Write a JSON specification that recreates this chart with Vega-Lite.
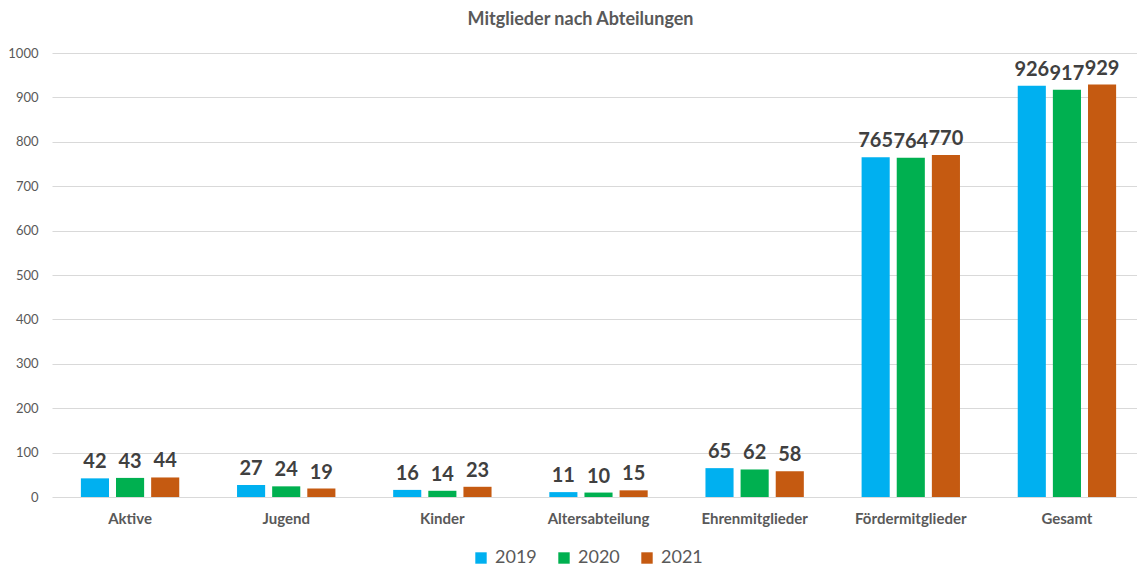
{
  "$schema": "https://vega.github.io/schema/vega-lite/v6.json",
  "autosize": {"type": "none"},
  "padding": {"left": 52, "top": 53, "right": 2, "bottom": 70},
  "width": 1083,
  "height": 444,
  "background": "white",
  "config": {
    "font": "Lato",
    "view": {"stroke": null}
  },
  "title": {
    "text": "Mitglieder nach Abteilungen",
    "fontSize": 18,
    "fontWeight": "bold",
    "color": "#595959",
    "font": "Lato",
    "offset": 18,
    "dx": -13
  },
  "data": {
    "values": [
      {"Abteilung": "Aktive", "Jahr": "2019", "Wert": 42},
      {"Abteilung": "Aktive", "Jahr": "2020", "Wert": 43},
      {"Abteilung": "Aktive", "Jahr": "2021", "Wert": 44},
      {"Abteilung": "Jugend", "Jahr": "2019", "Wert": 27},
      {"Abteilung": "Jugend", "Jahr": "2020", "Wert": 24},
      {"Abteilung": "Jugend", "Jahr": "2021", "Wert": 19},
      {"Abteilung": "Kinder", "Jahr": "2019", "Wert": 16},
      {"Abteilung": "Kinder", "Jahr": "2020", "Wert": 14},
      {"Abteilung": "Kinder", "Jahr": "2021", "Wert": 23},
      {"Abteilung": "Altersabteilung", "Jahr": "2019", "Wert": 11},
      {"Abteilung": "Altersabteilung", "Jahr": "2020", "Wert": 10},
      {"Abteilung": "Altersabteilung", "Jahr": "2021", "Wert": 15},
      {"Abteilung": "Ehrenmitglieder", "Jahr": "2019", "Wert": 65},
      {"Abteilung": "Ehrenmitglieder", "Jahr": "2020", "Wert": 62},
      {"Abteilung": "Ehrenmitglieder", "Jahr": "2021", "Wert": 58},
      {"Abteilung": "Fördermitglieder", "Jahr": "2019", "Wert": 765},
      {"Abteilung": "Fördermitglieder", "Jahr": "2020", "Wert": 764},
      {"Abteilung": "Fördermitglieder", "Jahr": "2021", "Wert": 770},
      {"Abteilung": "Gesamt", "Jahr": "2019", "Wert": 926},
      {"Abteilung": "Gesamt", "Jahr": "2020", "Wert": 917},
      {"Abteilung": "Gesamt", "Jahr": "2021", "Wert": 929}
    ]
  },
  "encoding": {
    "x": {
      "field": "Abteilung",
      "type": "nominal",
      "sort": null,
      "scale": {"paddingInner": 0.37, "paddingOuter": 0.185, "range": [0, 1093]},
      "axis": {
        "title": null,
        "labelAngle": 0,
        "labelFontSize": 15,
        "labelFontWeight": "bold",
        "labelColor": "#595959",
        "labelPadding": 14,
        "ticks": false,
        "domain": false,
        "grid": false
      }
    },
    "xOffset": {"field": "Jahr", "type": "nominal", "scale": {"paddingInner": 0.2, "paddingOuter": 0}},
    "y": {
      "field": "Wert",
      "type": "quantitative",
      "scale": {"domain": [0, 1000]},
      "axis": {
        "title": null,
        "values": [0, 100, 200, 300, 400, 500, 600, 700, 800, 900, 1000],
        "format": "d",
        "labelFontSize": 13,
        "labelColor": "#595959",
        "labelPadding": 14,
        "ticks": false,
        "domain": false,
        "gridColor": "#d9d9d9"
      }
    }
  },
  "layer": [
    {
      "mark": {"type": "bar"},
      "encoding": {
        "color": {
          "field": "Jahr",
          "type": "nominal",
          "scale": {"domain": ["2019", "2020", "2021"], "range": ["#00B0F0", "#00B050", "#C55A11"]},
          "legend": {
            "title": null,
            "orient": "none",
            "legendX": 420,
            "legendY": 496,
            "direction": "horizontal",
            "symbolType": "square",
            "symbolSize": 130,
            "symbolStrokeWidth": 0,
            "labelFontSize": 18,
            "labelColor": "#595959",
            "labelOffset": 5,
            "columnPadding": 18
          }
        }
      }
    },
    {
      "mark": {"type": "text", "baseline": "bottom", "dy": -6, "fontSize": 20, "fontWeight": "bold", "color": "#404040"},
      "encoding": {
        "text": {"field": "Wert", "type": "quantitative"}
      }
    }
  ]
}
